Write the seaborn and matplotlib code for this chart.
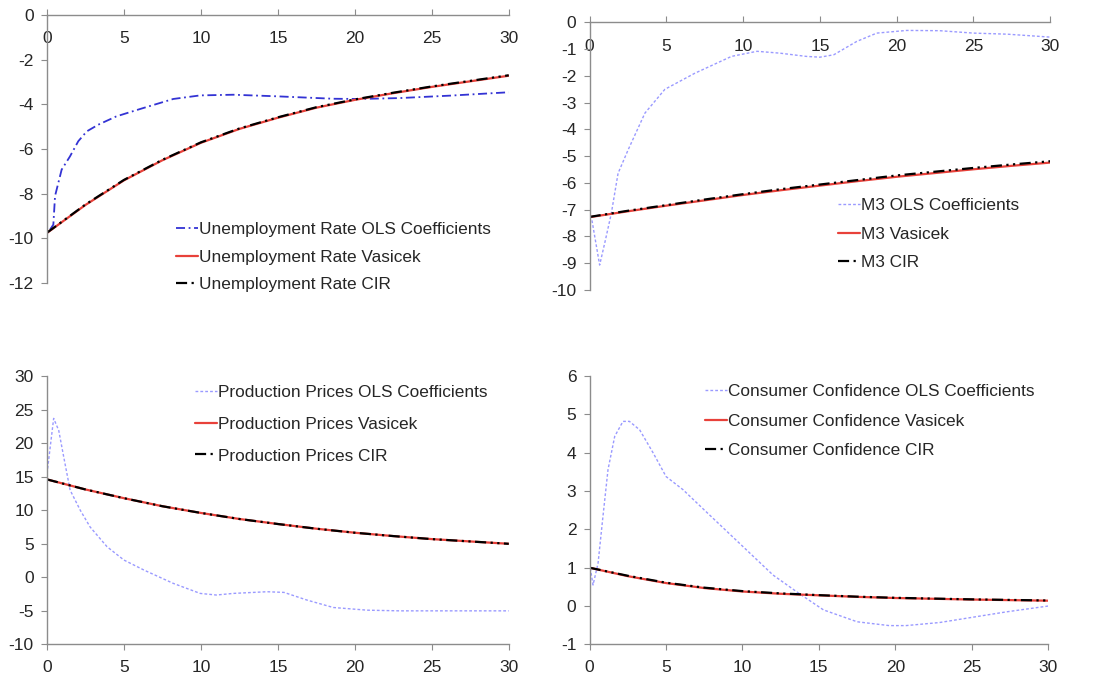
import matplotlib
matplotlib.use("Agg")
import numpy as np
import pandas as pd
import matplotlib.pyplot as plt
import seaborn as sns

sns.set_style("white")
plt.rcParams["font.family"] = ["Liberation Sans", "DejaVu Sans"]
plt.rcParams["axes.unicode_minus"] = False

# horizon (years) for the fitted curves
years = [0, 2.5, 5, 7.5, 10, 12.5, 15, 17.5, 20, 22.5, 25, 27.5, 30]

# Unemployment Rate
unemp_ols_x = [0.2, 0.41, 0.52, 0.95, 1.49, 2.03, 2.58, 3.33, 4.5, 6.04, 8.2, 9.95, 12.1, 14.9, 18.6, 20.3, 22.9, 26.2, 30]
unemp_ols_y = [-9.6, -9.38, -8.1, -6.92, -6.33, -5.65, -5.21, -4.91, -4.54, -4.21, -3.76, -3.6, -3.57, -3.64, -3.75, -3.76, -3.72, -3.61, -3.46]
unemp_vasicek = [-9.75, -8.5, -7.4, -6.5, -5.72, -5.1, -4.6, -4.15, -3.8, -3.5, -3.22, -2.97, -2.72]
unemp_cir = [-9.74, -8.48, -7.38, -6.48, -5.7, -5.08, -4.58, -4.13, -3.78, -3.48, -3.2, -2.95, -2.7]

# M3
m3_ols_x = [0.15, 0.65, 1.0, 1.41, 1.85, 2.5, 3.6, 4.9, 6.85, 9.24, 10.9, 12.4, 14.1, 15.0, 15.9, 17.4, 18.7, 20.65, 22.8, 25.0, 27.2, 30]
m3_ols_y = [-7.4, -9.07, -8.2, -7.14, -5.64, -4.77, -3.39, -2.5, -1.9, -1.27, -1.08, -1.15, -1.27, -1.3, -1.21, -0.71, -0.4, -0.3, -0.31, -0.4, -0.44, -0.55]
m3_vasicek = [-7.28, -7.06, -6.85, -6.65, -6.45, -6.27, -6.1, -5.93, -5.77, -5.63, -5.49, -5.36, -5.24]
m3_cir = [-7.27, -7.04, -6.83, -6.62, -6.42, -6.23, -6.06, -5.89, -5.72, -5.58, -5.44, -5.31, -5.19]

# Production Prices
pp_ols_x = [0.0, 0.43, 0.76, 1.08, 1.5, 2.16, 2.8, 3.9, 5.0, 6.3, 8.2, 9.95, 11.0, 12.1, 14.3, 15.4, 16.9, 18.6, 20.8, 22.9, 30]
pp_ols_y = [15.5, 23.7, 21.9, 18.0, 13.0, 10.0, 7.5, 4.56, 2.57, 1.08, -0.9, -2.4, -2.64, -2.4, -2.15, -2.25, -3.4, -4.5, -4.9, -5.0, -5.0]
pp_vasicek = [14.6, 13.1, 11.8, 10.6, 9.6, 8.7, 7.95, 7.25, 6.65, 6.15, 5.7, 5.35, 5.0]
pp_cir = [14.6, 13.1, 11.8, 10.6, 9.6, 8.7, 7.95, 7.25, 6.65, 6.15, 5.7, 5.35, 5.0]

# Consumer Confidence
cc_ols_x = [0.04, 0.22, 0.55, 0.87, 1.2, 1.64, 2.18, 2.6, 3.27, 4.15, 5.0, 6.1, 7.6, 9.8, 12.0, 13.7, 15.3, 17.5, 19.6, 20.7, 22.9, 25.1, 27.3, 30]
cc_ols_y = [0.99, 0.55, 1.12, 2.34, 3.56, 4.43, 4.82, 4.82, 4.6, 4.0, 3.38, 3.04, 2.47, 1.64, 0.81, 0.33, -0.1, -0.41, -0.51, -0.51, -0.43, -0.29, -0.15, 0.0]
cc_vasicek = [1.0, 0.78, 0.6, 0.47, 0.38, 0.32, 0.28, 0.24, 0.21, 0.19, 0.17, 0.155, 0.14]
cc_cir = [1.0, 0.79, 0.61, 0.48, 0.39, 0.33, 0.285, 0.245, 0.215, 0.195, 0.175, 0.16, 0.145]

xticks = [0, 5, 10, 15, 20, 25, 30]

panels = [
    dict(name="Unemployment Rate", ols=(unemp_ols_x, unemp_ols_y), vas=unemp_vasicek, cir=unemp_cir,
         rect=[0.043, 0.583, 0.422, 0.395], ylim=(-12, 0), ystep=2, top_axis=True,
         ols_color="#3333d4", ols_ls=(0, (5, 2, 1, 2)), ols_lw=1.3,
         leg=(0.279, 0.228), lsp=0.73),
    dict(name="M3", ols=(m3_ols_x, m3_ols_y), vas=m3_vasicek, cir=m3_cir,
         rect=[0.539, 0.573, 0.421, 0.394], ylim=(-10, 0), ystep=1, top_axis=True,
         ols_color="#9a9aff", ols_ls=(0, (2, 1.5)), ols_lw=1.0,
         leg=(0.539, 0.343), lsp=0.78),
    dict(name="Production Prices", ols=(pp_ols_x, pp_ols_y), vas=pp_vasicek, cir=pp_cir,
         rect=[0.043, 0.051, 0.422, 0.395], ylim=(-10, 30), ystep=5, top_axis=False,
         ols_color="#9a9aff", ols_ls=(0, (2, 1.5)), ols_lw=1.0,
         leg=(0.32, 0.966), lsp=0.96),
    dict(name="Consumer Confidence", ols=(cc_ols_x, cc_ols_y), vas=cc_vasicek, cir=cc_cir,
         rect=[0.539, 0.051, 0.419, 0.395], ylim=(-1, 6), ystep=1, top_axis=False,
         ols_color="#9a9aff", ols_ls=(0, (2, 1.5)), ols_lw=1.0,
         leg=(0.251, 0.97), lsp=0.84),
]

fig = plt.figure(figsize=(10.94, 6.79), dpi=100)
grey = "#8c8c8c"

for p in panels:
    ax = fig.add_axes(p["rect"])
    ols = pd.DataFrame({"x": p["ols"][0], "y": p["ols"][1]})
    fit = pd.DataFrame({"x": years, "vas": p["vas"], "cir": p["cir"]})

    sns.lineplot(data=ols, x="x", y="y", ax=ax, color=p["ols_color"], linestyle=p["ols_ls"],
                 linewidth=p["ols_lw"], estimator=None, sort=False,
                 label=f"{p['name']} OLS Coefficients")
    sns.lineplot(data=fit, x="x", y="vas", ax=ax, color="#e8413a", linewidth=1.6,
                 estimator=None, label=f"{p['name']} Vasicek")
    sns.lineplot(data=fit, x="x", y="cir", ax=ax, color="black", linewidth=1.6,
                 linestyle=(0, (5, 2, 1, 2, 1, 2)), estimator=None, label=f"{p['name']} CIR")

    ax.set_xlim(0, 30)
    ax.set_ylim(*p["ylim"])
    ax.set_xticks(xticks)
    ax.set_yticks(np.arange(p["ylim"][0], p["ylim"][1] + 0.001, p["ystep"]))
    ax.set_xlabel("")
    ax.set_ylabel("")

    for s in ax.spines.values():
        s.set_color(grey)
        s.set_linewidth(1.0)
    ax.spines["right"].set_visible(False)
    if p["top_axis"]:
        ax.spines["bottom"].set_visible(False)
        ax.tick_params(axis="x", bottom=False, top=True, labelbottom=False, labeltop=True,
                       direction="out", length=4, pad=-26.5, color=grey, labelsize=12.5)
    else:
        ax.spines["top"].set_visible(False)
        ax.tick_params(axis="x", bottom=True, top=False, direction="out", length=4, pad=7.5,
                       color=grey, labelsize=12.5)
    ax.tick_params(axis="y", left=True, direction="out", length=4.5, pad=5, color=grey, labelsize=12.5)

    ax.legend(loc="upper left", bbox_to_anchor=p["leg"], frameon=False, fontsize=12.4,
              handlelength=1.3, handletextpad=0.05, labelspacing=p["lsp"],
              borderpad=0, borderaxespad=0)

fig.savefig("out.png", dpi=100)
